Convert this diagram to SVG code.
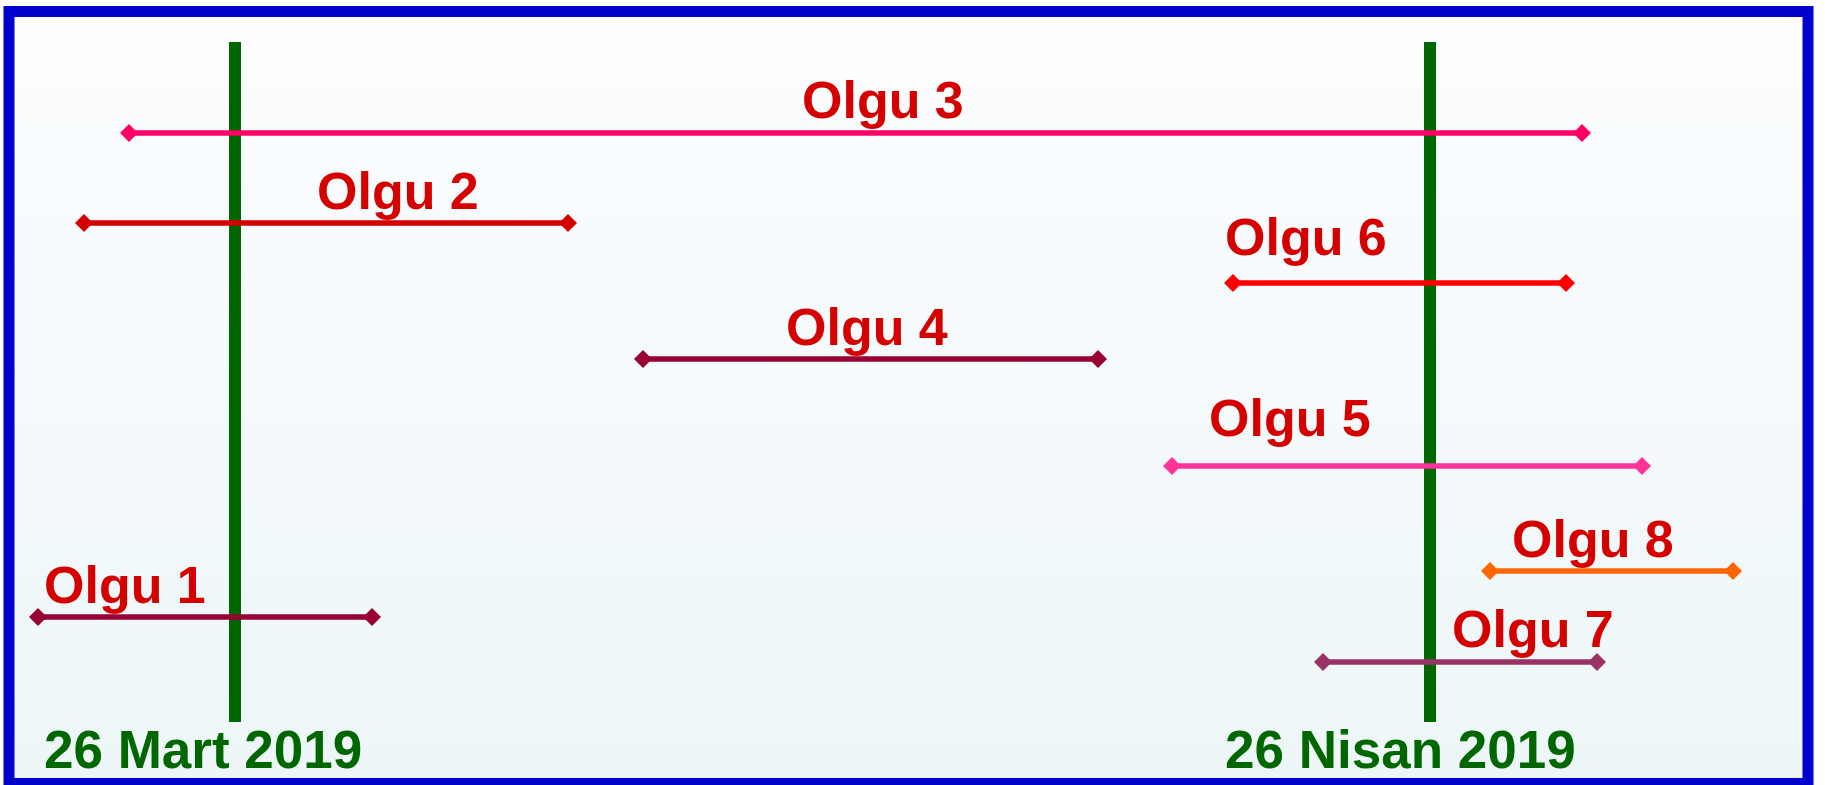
<svg xmlns="http://www.w3.org/2000/svg" width="1825" height="785" viewBox="0 0 1825 785">
  <defs>
    <linearGradient id="bg" x1="0" y1="0" x2="0" y2="1">
      <stop offset="0" stop-color="#FCFDFF"/>
      <stop offset="1" stop-color="#EDF6F7"/>
    </linearGradient>
    <marker id="m3" markerUnits="userSpaceOnUse" markerWidth="20" markerHeight="20" refX="10" refY="10" viewBox="0 0 20 20"><path d="M1,10 L10,1 L19,10 L10,19 Z" fill="#FF0066"/></marker>
    <marker id="m2" markerUnits="userSpaceOnUse" markerWidth="20" markerHeight="20" refX="10" refY="10" viewBox="0 0 20 20"><path d="M1,10 L10,1 L19,10 L10,19 Z" fill="#D50000"/></marker>
    <marker id="m6" markerUnits="userSpaceOnUse" markerWidth="20" markerHeight="20" refX="10" refY="10" viewBox="0 0 20 20"><path d="M1,10 L10,1 L19,10 L10,19 Z" fill="#FF0000"/></marker>
    <marker id="m4" markerUnits="userSpaceOnUse" markerWidth="20" markerHeight="20" refX="10" refY="10" viewBox="0 0 20 20"><path d="M1,10 L10,1 L19,10 L10,19 Z" fill="#990033"/></marker>
    <marker id="m5" markerUnits="userSpaceOnUse" markerWidth="20" markerHeight="20" refX="10" refY="10" viewBox="0 0 20 20"><path d="M1,10 L10,1 L19,10 L10,19 Z" fill="#FF3399"/></marker>
    <marker id="m8" markerUnits="userSpaceOnUse" markerWidth="20" markerHeight="20" refX="10" refY="10" viewBox="0 0 20 20"><path d="M1,10 L10,1 L19,10 L10,19 Z" fill="#FF6600"/></marker>
    <marker id="m7" markerUnits="userSpaceOnUse" markerWidth="20" markerHeight="20" refX="10" refY="10" viewBox="0 0 20 20"><path d="M1,10 L10,1 L19,10 L10,19 Z" fill="#993366"/></marker>
  </defs>
  <style>
    .lbl { font-family: "Liberation Sans", Arial, sans-serif; font-weight: bold; font-size: 52px; fill: #D50000; }
    .date { font-family: "Liberation Sans", Arial, sans-serif; font-weight: bold; font-size: 53px; fill: #006600; }
    .span { stroke-width: 5.5; fill: none; }
    .axis { stroke: #006600; stroke-width: 12; }
  </style>
  <rect x="9" y="11.5" width="1799" height="772" fill="url(#bg)" stroke="#0000CC" stroke-width="11"/>

  <g id="axis-mart">
    <line class="axis" x1="235" y1="42" x2="235" y2="722"/>
    <text class="date" x="44" y="768">26 Mart 2019</text>
  </g>
  <g id="axis-nisan">
    <line class="axis" x1="1430" y1="42" x2="1430" y2="722"/>
    <text class="date" x="1225" y="768">26 Nisan 2019</text>
  </g>

  <g id="connectors">
    <line class="span" x1="129" y1="133" x2="1582" y2="133" stroke="#FF0066" marker-start="url(#m3)" marker-end="url(#m3)"/>
    <line class="span" x1="84" y1="223" x2="568" y2="223" stroke="#D50000" marker-start="url(#m2)" marker-end="url(#m2)"/>
    <line class="span" x1="1233" y1="283" x2="1566" y2="283" stroke="#FF0000" marker-start="url(#m6)" marker-end="url(#m6)"/>
    <line class="span" x1="643" y1="359" x2="1098" y2="359" stroke="#990033" marker-start="url(#m4)" marker-end="url(#m4)"/>
    <line class="span" x1="1172" y1="466" x2="1642" y2="466" stroke="#FF3399" marker-start="url(#m5)" marker-end="url(#m5)"/>
    <line class="span" x1="1490" y1="571" x2="1733" y2="571" stroke="#FF6600" marker-start="url(#m8)" marker-end="url(#m8)"/>
    <line class="span" x1="38" y1="617" x2="372" y2="617" stroke="#990033" marker-start="url(#m4)" marker-end="url(#m4)"/>
    <line class="span" x1="1323" y1="662" x2="1597" y2="662" stroke="#993366" marker-start="url(#m7)" marker-end="url(#m7)"/>
  </g>

  <g id="olgu3"><text class="lbl" x="802" y="118">Olgu 3</text></g>
  <g id="olgu2"><text class="lbl" x="317" y="209">Olgu 2</text></g>
  <g id="olgu6"><text class="lbl" x="1225" y="255">Olgu 6</text></g>
  <g id="olgu4"><text class="lbl" x="786" y="345">Olgu 4</text></g>
  <g id="olgu5"><text class="lbl" x="1209" y="436">Olgu 5</text></g>
  <g id="olgu8"><text class="lbl" x="1512" y="557">Olgu 8</text></g>
  <g id="olgu1"><text class="lbl" x="44" y="603">Olgu 1</text></g>
  <g id="olgu7"><text class="lbl" x="1452" y="647">Olgu 7</text></g>
</svg>
